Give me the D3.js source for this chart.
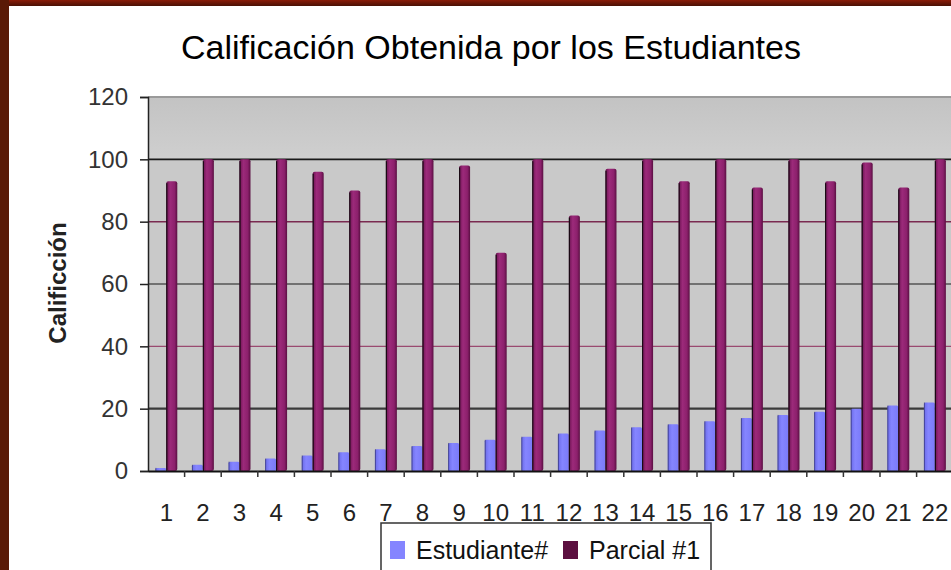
<!DOCTYPE html>
<html>
<head>
<meta charset="utf-8">
<script src="https://cdn.jsdelivr.net/npm/d3@7"></script>
<style>
  html, body { margin: 0; padding: 0; background: #fff; }
  svg { display: block; }
</style>
</head>
<body>
<svg id="chart" width="951" height="570"></svg>
<script>
// Chart data
const categories = ["1","2","3","4","5","6","7","8","9","10","11","12","13","14","15","16","17","18","19","20","21","22"];
const estudiante = [1,2,3,4,5,6,7,8,9,10,11,12,13,14,15,16,17,18,19,20,21,22];
const parcial1 = [93,100,100,100,96,90,100,100,98,70,100,82,97,100,93,100,91,100,93,99,91,100];
const seriesNames = ["Estudiante#", "Parcial #1"];
const yTicks = [0,20,40,60,80,100,120];

const svg = d3.select("#chart");
const W = 951, H = 570;
const plot = { left: 148, top: 97, bottom: 471 };
const step = 36.6;
const font = "Liberation Sans, Arial, sans-serif";

const defs = svg.append("defs");
const frameTop = defs.append("linearGradient").attr("id","frameTop").attr("x1",0).attr("y1",0).attr("x2",0).attr("y2",1);
frameTop.append("stop").attr("offset","0%").attr("stop-color","#8a1c08");
frameTop.append("stop").attr("offset","100%").attr("stop-color","#4a1004");
const band = defs.append("linearGradient").attr("id","topBand").attr("x1",0).attr("y1",0).attr("x2",0).attr("y2",1);
band.append("stop").attr("offset","0%").attr("stop-color","#c3c3c3");
band.append("stop").attr("offset","100%").attr("stop-color","#cfcfcf");
const purpleGrad = defs.append("linearGradient").attr("id","purpleBar").attr("x1",0).attr("y1",0).attr("x2",1).attr("y2",0);
purpleGrad.append("stop").attr("offset","0%").attr("stop-color","#6a1250");
purpleGrad.append("stop").attr("offset","35%").attr("stop-color","#9c2a7a");
purpleGrad.append("stop").attr("offset","75%").attr("stop-color","#8c206c");
purpleGrad.append("stop").attr("offset","100%").attr("stop-color","#5a0f42");
const blueGrad = defs.append("linearGradient").attr("id","blueBar").attr("x1",0).attr("y1",0).attr("x2",1).attr("y2",0);
blueGrad.append("stop").attr("offset","0%").attr("stop-color","#6a6ae8");
blueGrad.append("stop").attr("offset","40%").attr("stop-color","#8585ff");
blueGrad.append("stop").attr("offset","100%").attr("stop-color","#7a7af8");

// Page background and frame
svg.append("rect").attr("width", W).attr("height", H).attr("fill", "#ffffff");
svg.append("rect").attr("x",0).attr("y",0).attr("width",W).attr("height",6).attr("fill","url(#frameTop)");
svg.append("rect").attr("x",0).attr("y",0).attr("width",9).attr("height",H).attr("fill","#5a1a06");

// Scales
const x = d3.scaleBand().domain(categories)
  .range([plot.left, plot.left + step * categories.length])
  .paddingInner(0.4).paddingOuter(0.2);
const xs = d3.scaleBand().domain(seriesNames).range([0, x.bandwidth()]);
const y = d3.scaleLinear().domain([0, 120]).range([plot.bottom, plot.top]);
const plotRight = W;

// Plot area
svg.append("rect").attr("x", plot.left).attr("y", y(120))
  .attr("width", plotRight - plot.left).attr("height", y(0) - y(120)).attr("fill", "#c9c9c9");
svg.append("rect").attr("x", plot.left).attr("y", y(120))
  .attr("width", plotRight - plot.left).attr("height", y(100) - y(120)).attr("fill", "url(#topBand)");
svg.append("line").attr("x1", plot.left).attr("x2", plotRight).attr("y1", y(120)).attr("y2", y(120))
  .attr("stroke", "#9a9a9a").attr("stroke-width", 2);

// Gridlines
const gridStyle = {
  20: { c: "#3a3a3a", w: 2.2 },
  40: { c: "#9a4a70", w: 1.2 },
  60: { c: "#1a1a1a", w: 1.2 },
  80: { c: "#7a2a50", w: 1.5 },
  100: { c: "#1a1a1a", w: 1.8 }
};
svg.append("g").selectAll("line").data(yTicks.filter(t => t > 0 && t < 120)).join("line")
  .attr("x1", plot.left).attr("x2", plotRight)
  .attr("y1", d => y(d)).attr("y2", d => y(d))
  .attr("stroke", d => gridStyle[d].c).attr("stroke-width", d => gridStyle[d].w);

// Bars
const groups = svg.append("g").selectAll("g").data(categories).join("g")
  .attr("transform", d => `translate(${x(d)},0)`);

groups.append("rect")
  .attr("x", xs("Estudiante#"))
  .attr("y", (d, i) => y(estudiante[i]))
  .attr("width", xs.bandwidth())
  .attr("height", (d, i) => y(0) - y(estudiante[i]))
  .attr("rx", 1.5)
  .attr("fill", "url(#blueBar)");
groups.append("line")
  .attr("x1", xs("Estudiante#") + 0.5).attr("x2", xs("Estudiante#") + 0.5)
  .attr("y1", (d, i) => y(estudiante[i])).attr("y2", y(0))
  .attr("stroke", "#2a2a60").attr("stroke-width", 1).attr("opacity", 0.6);

groups.append("rect")
  .attr("x", xs("Parcial #1"))
  .attr("y", (d, i) => y(parcial1[i]))
  .attr("width", xs.bandwidth())
  .attr("height", (d, i) => y(0) - y(parcial1[i]))
  .attr("rx", 2)
  .attr("fill", "url(#purpleBar)");
groups.append("line")
  .attr("x1", xs("Parcial #1") + 0.5).attr("x2", xs("Parcial #1") + 0.5)
  .attr("y1", (d, i) => y(parcial1[i]) + 2).attr("y2", y(0))
  .attr("stroke", "#1a0a14").attr("stroke-width", 1.2);

// Axes
const yAxis = d3.axisLeft(y).tickValues(yTicks).tickSize(8).tickPadding(12);
const gy = svg.append("g").attr("transform", `translate(${plot.left},0)`).call(yAxis);
gy.select(".domain").attr("stroke", "#222").attr("stroke-width", 1.5);
gy.selectAll(".tick line").attr("stroke", "#222").attr("stroke-width", 1.5);
gy.selectAll(".tick text").attr("font-family", font)
  .attr("font-size", 24).attr("fill", "#333");

const xAxis = d3.axisBottom(x).tickSize(0).tickPadding(33);
const gx = svg.append("g").attr("transform", `translate(0,${plot.bottom})`).call(xAxis);
gx.select(".domain").attr("stroke", "#111").attr("stroke-width", 2);
gx.selectAll(".tick text").attr("font-family", font)
  .attr("font-size", 24).attr("fill", "#222");
// Category separator ticks
svg.append("g").selectAll("line").data(categories.slice(1)).join("line")
  .attr("x1", d => x(d) - x.step() * x.paddingInner() / 2)
  .attr("x2", d => x(d) - x.step() * x.paddingInner() / 2)
  .attr("y1", plot.bottom).attr("y2", plot.bottom + 6)
  .attr("stroke", "#333").attr("stroke-width", 1.5);

// Title
svg.append("text").attr("x", 491).attr("y", 59).attr("text-anchor", "middle")
  .attr("font-family", font).attr("font-size", 34)
  .attr("fill", "#000").text("Calificación Obtenida por los Estudiantes");

// Y axis title
svg.append("text").attr("transform", "translate(66,283) rotate(-90)").attr("text-anchor", "middle")
  .attr("font-family", font).attr("font-size", 24).attr("font-weight", "bold")
  .attr("fill", "#222").text("Calificción");

// Legend
const legend = svg.append("g");
legend.append("rect").attr("x", 381).attr("y", 523).attr("width", 330).attr("height", 60)
  .attr("fill", "#fff").attr("stroke", "#333").attr("stroke-width", 1.5);
const legendColors = ["#8585ff", "#5c1040"];
const legendX = [390, 563];
seriesNames.forEach((name, i) => {
  legend.append("rect").attr("x", legendX[i]).attr("y", 541).attr("width", 15).attr("height", 18)
    .attr("fill", legendColors[i]);
  legend.append("text").attr("x", legendX[i] + 26).attr("y", 559)
    .attr("font-family", font).attr("font-size", 25)
    .attr("fill", "#111").text(name);
});
</script>
</body>
</html>
